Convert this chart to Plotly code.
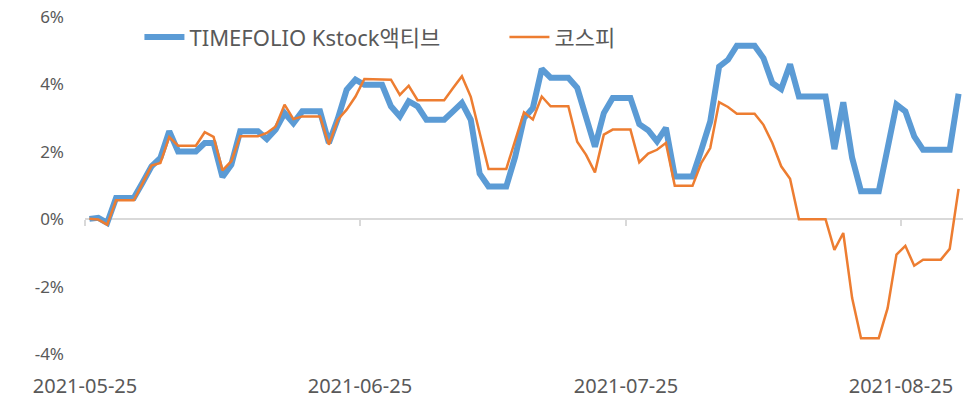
import pandas as pd
import plotly.graph_objects as go

dates = pd.date_range("2021-05-25", "2021-08-31", freq="D")

timefolio = [
    0.01, 0.04, -0.11, 0.63, 0.63, 0.63, 1.09, 1.57, 1.82, 2.61,
    2.01, 2.01, 2.01, 2.26, 2.26, 1.25, 1.62, 2.61, 2.61, 2.61,
    2.38, 2.66, 3.15, 2.85, 3.20, 3.20, 3.20, 2.26, 2.98, 3.84,
    4.14, 3.99, 3.99, 3.99, 3.35, 3.05, 3.50, 3.35, 2.95, 2.95,
    2.95, 3.20, 3.45, 2.95, 1.35, 0.97, 0.97, 0.97, 1.85, 3.00,
    3.30, 4.46, 4.20, 4.20, 4.20, 3.90, 2.98, 2.15, 3.15, 3.60,
    3.60, 3.60, 2.82, 2.64, 2.31, 2.71, 1.27, 1.27, 1.27, 2.06,
    2.90, 4.53, 4.73, 5.15, 5.15, 5.15, 4.78, 4.04, 3.86, 4.60,
    3.64, 3.64, 3.64, 3.64, 2.08, 3.47, 1.82, 0.83, 0.83, 0.83,
    2.11, 3.40, 3.20, 2.46, 2.06, 2.06, 2.06, 2.06, 3.72,
]

kospi = [
    0.01, -0.01, -0.16, 0.56, 0.56, 0.56, 1.07, 1.59, 1.67, 2.44,
    2.18, 2.18, 2.18, 2.58, 2.44, 1.45, 1.72, 2.46, 2.46, 2.46,
    2.56, 2.75, 3.40, 2.97, 3.05, 3.05, 3.05, 2.21, 2.95, 3.25,
    3.64, 4.16, 4.16, 4.16, 4.14, 3.69, 3.96, 3.53, 3.53, 3.53,
    3.53, 3.89, 4.24, 3.63, 2.53, 1.49, 1.49, 1.49, 2.33, 3.17,
    2.96, 3.64, 3.35, 3.35, 3.35, 2.30, 1.91, 1.39, 2.51, 2.66,
    2.66, 2.66, 1.69, 1.95, 2.06, 2.26, 0.99, 0.99, 0.99, 1.67,
    2.11, 3.47, 3.33, 3.13, 3.13, 3.13, 2.80, 2.26, 1.57, 1.20,
    0.00, 0.00, 0.00, 0.00, -0.91, -0.41, -2.34, -3.53, -3.53, -3.53,
    -2.64, -1.05, -0.79, -1.38, -1.20, -1.20, -1.20, -0.88, 0.90,
]

x_ticks = ["2021-05-25", "2021-06-25", "2021-07-25", "2021-08-25"]
y_ticks = [-4, -2, 0, 2, 4, 6]
y_tick_labels = ["-4%", "-2%", "0%", "2%", "4%", "6%"]

names = ["TIMEFOLIO Kstock액티브", "코스피"]

FONT = "Noto Sans, Noto Sans CJK KR"
GREY = "#595959"

fig = go.Figure()
fig.add_trace(go.Scatter(
    x=dates, y=timefolio, name=names[0], mode="lines",
    line=dict(color="#5B9BD5", width=6),
    xperiod=86400000, xperiodalignment="middle",
    xaxis="x", yaxis="y",
))
fig.add_trace(go.Scatter(
    x=dates, y=kospi, name=names[1], mode="lines",
    line=dict(color="#ED7D31", width=2.5),
    xperiod=86400000, xperiodalignment="middle",
    xaxis="x2", yaxis="y",
))

# The page body has an 8px margin, so the figure is sized to fit the window.
fig.update_layout(
    width=966, height=393,
    margin=dict(l=77, r=11, t=9, b=47, autoexpand=False),
    paper_bgcolor="white", plot_bgcolor="white",
    font=dict(family=FONT, size=17, color=GREY),
    showlegend=True,
    legend=dict(
        orientation="h", x=0.062, y=0.94, xanchor="left", yanchor="middle",
        font=dict(family=FONT, size=22, color=GREY),
        bgcolor="rgba(0,0,0,0)", itemwidth=40, tracegroupgap=0,
        entrywidth=310, entrywidthmode="pixels",
    ),
    xaxis=dict(
        type="date", range=["2021-05-25", "2021-09-01"], automargin=False,
        tickvals=x_ticks, ticktext=x_ticks, ticklabeloverflow="allow",
        showgrid=False, zeroline=False, showline=False,
        ticks="", ticklabelstandoff=18,
        tickfont=dict(family=FONT, size=20, color=GREY),
    ),
    xaxis2=dict(
        type="date", matches="x", overlaying="x", anchor="free", position=0.4,
        tickvals=x_ticks, showticklabels=False, automargin=False,
        showgrid=False, zeroline=False, layer="below traces",
        showline=True, linecolor="#D9D9D9", linewidth=2,
        ticks="outside", ticklen=6, tickwidth=2, tickcolor="#D9D9D9",
    ),
    yaxis=dict(
        range=[-4, 6], tickvals=y_ticks, ticktext=y_tick_labels, automargin=False,
        ticklabeloverflow="allow",
        showgrid=False, zeroline=False, showline=False,
        ticks="", ticklabelstandoff=20,
        tickfont=dict(family=FONT, size=17, color=GREY),
    ),
)

fig.write_html("out.html")
